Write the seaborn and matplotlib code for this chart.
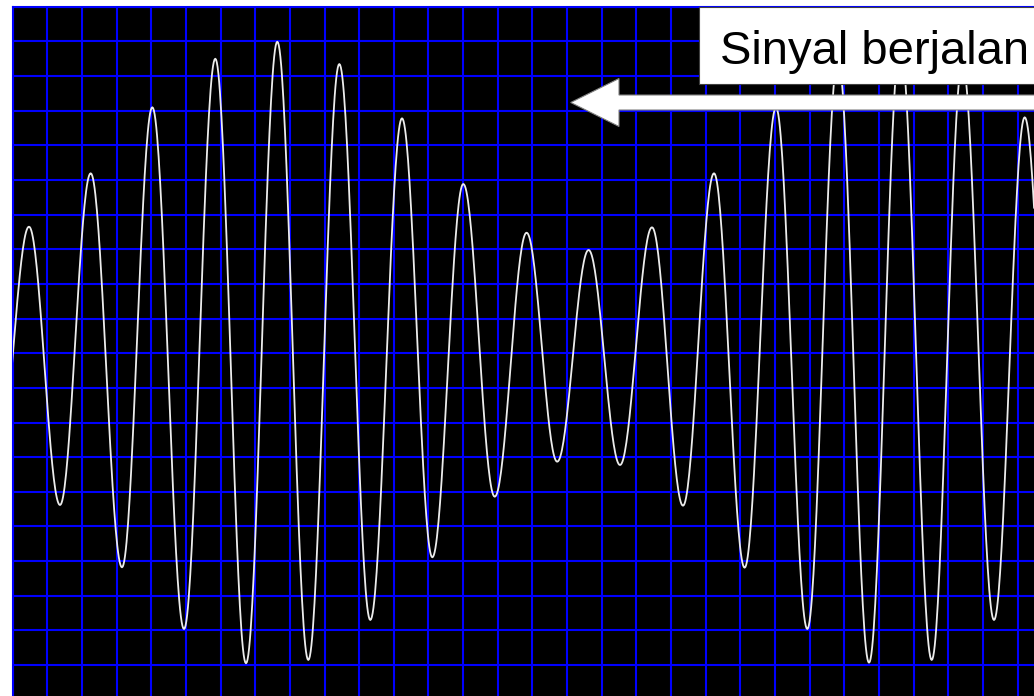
import numpy as np
import pandas as pd
import matplotlib
matplotlib.use("Agg")
import matplotlib.pyplot as plt
import seaborn as sns
from matplotlib.patches import FancyArrow, Rectangle

# ---- data (grid-cell units, 0 = signal centre) ----
peak_x = [0.470, 2.251, 4.029, 5.847, 7.636, 9.426, 11.235, 13.004, 14.831,
          16.620, 18.450, 20.240, 22.029, 23.818, 25.616, 27.408, 29.206]
peak_y = [3.651, 5.192, 7.097, 8.499, 8.990, 8.346, 6.779, 4.883, 3.478,
          2.978, 3.633, 5.192, 7.090, 8.500, 8.980, 8.370, 6.808]
trough_x = [-0.420, 1.365, 3.154, 4.944, 6.733, 8.531, 10.320, 12.110, 13.911,
            15.714, 17.527, 19.345, 21.123, 22.932, 24.713, 26.522, 28.320, 30.110]
trough_y = [-3.200, -4.381, -6.179, -7.960, -8.949, -8.854, -7.700, -5.890, -4.141,
            -3.131, -3.227, -4.401, -6.190, -7.960, -8.932, -8.854, -7.700, -5.890]
label_text = "Sinyal berjalan"

# ---- build waveform through the extrema (half-cosine shape between them) ----
ext = sorted(zip(peak_x + trough_x, peak_y + trough_y))
xs, ys = [], []
for (x0, y0), (x1, y1) in zip(ext[:-1], ext[1:]):
    t = np.linspace(0, 1, 40, endpoint=False)
    xs.extend(x0 + (x1 - x0) * t)
    ys.extend(y0 + (y1 - y0) * (1 - np.cos(np.pi * t)) / 2)
xs.append(ext[-1][0]); ys.append(ext[-1][1])
df = pd.DataFrame({"x": xs, "y": ys})

sns.set_theme(style="white")
plt.rcParams["font.family"] = ["Liberation Sans", "DejaVu Sans"]

W, H = 1034, 696
fig = plt.figure(figsize=(W / 100, H / 100), dpi=100, facecolor="white")
left_px, top_px, cell = 12.7, 6.7, 34.65
ax = fig.add_axes([left_px / W, 0, 1 - left_px / W, (H - top_px) / H])
ax.set_facecolor("black")
xmax = (W - left_px) / cell
ymin = -(H - (top_px + 10 * cell)) / cell
ax.set_xlim(0, xmax)
ax.set_ylim(ymin, 10)

ax.set_xticks(np.arange(0, 30))
ax.set_yticks(np.arange(-9, 11))
ax.grid(True, color="#0000ff", lw=1.5)
ax.set_axisbelow(True)
ax.tick_params(length=0, labelbottom=False, labelleft=False)
for s in ["right", "bottom"]:
    ax.spines[s].set_visible(False)
for s in ["left", "top"]:
    ax.spines[s].set_color("#0000ff")
    ax.spines[s].set_linewidth(1.5)
ax.set_xlabel(""); ax.set_ylabel("")

sns.lineplot(data=df, x="x", y="y", sort=False, ax=ax, color="#ececec",
             lw=1.3, zorder=3)
ax.set_xlabel(""); ax.set_ylabel("")
ax.set_xlim(0, xmax)
ax.set_ylim(ymin, 10)

# arrow
tip_x = (570.7 - left_px) / cell
arr_y = (353.2 - 102.5) / cell
ax.add_patch(FancyArrow(xmax + 0.05, arr_y, -(xmax + 0.05 - tip_x), 0,
                        width=0.433, head_width=1.385, head_length=1.394,
                        length_includes_head=True, fc="white", ec="#808080",
                        lw=0.8, zorder=6, clip_on=False))

# label box
bx = (699 - left_px) / cell
by = (353.2 - 84) / cell
ax.add_patch(Rectangle((bx, by), xmax - bx + 1, 10 - by, fc="white",
                       ec="#404040", lw=0.8, zorder=7, clip_on=False))
ax.text((720 - left_px) / cell, (353.2 - 63.5) / cell, label_text,
        fontsize=34, color="black", ha="left", va="baseline", zorder=8)

fig.savefig("out.png", dpi=100, facecolor="white")
